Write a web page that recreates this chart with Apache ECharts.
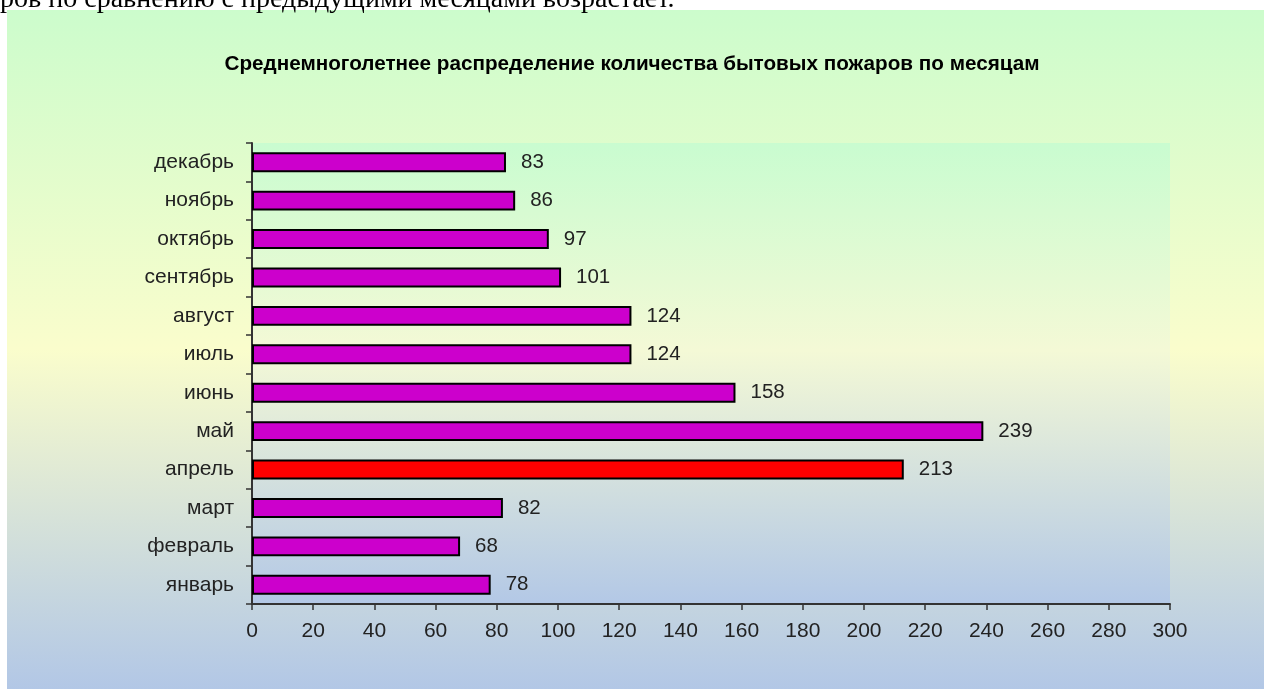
<!DOCTYPE html>
<html>
<head>
<meta charset="utf-8">
<style>
  html, body { margin: 0; padding: 0; background: #fff; }
  #chart { width: 1264px; height: 689px; }
</style>
<script src="https://cdn.jsdelivr.net/npm/echarts@6/dist/echarts.min.js"></script>
</head>
<body>
<div id="chart"></div>
<script>
// месяцы снизу вверх, как на оси
const months = ['январь', 'февраль', 'март', 'апрель', 'май', 'июнь', 'июль', 'август', 'сентябрь', 'октябрь', 'ноябрь', 'декабрь']
const fires = [78, 68, 82, 213, 239, 158, 124, 124, 101, 97, 86, 83]
const highlightMonth = 'апрель'
const xTicks = [0, 20, 40, 60, 80, 100, 120, 140, 160, 180, 200, 220, 240, 260, 280, 300]

const chart = echarts.init(document.getElementById('chart'))

const bgGradient = (stops) => new echarts.graphic.LinearGradient(0, 0, 0, 1, stops)

const option = {
  animation: false,
  textStyle: { fontFamily: 'Liberation Sans, Arial, sans-serif' },
  graphic: [
    {
      type: 'rect',
      z: -10,
      shape: { x: 7, y: 10, width: 1257, height: 679 },
      style: {
        fill: bgGradient([
          { offset: 0, color: '#ccfccc' },
          { offset: 0.5, color: '#fafdcc' },
          { offset: 1, color: '#b2c7e6' }
        ])
      }
    },
    {
      // обрезанная строка текста документа над диаграммой
      type: 'text',
      z: -5,
      left: 0,
      top: -14,
      style: {
        text: 'ров по сравнению с предыдущими месяцами возрастает.',
        font: '28px "Liberation Serif", serif',
        fill: '#000'
      }
    }
  ],
  title: {
    text: 'Среднемноголетнее распределение количества бытовых пожаров по месяцам',
    left: 'center',
    top: 49,
    textStyle: { fontSize: 20.7, fontWeight: 'bold', color: '#000' }
  },
  grid: {
    left: 252,
    right: 94,
    top: 143,
    bottom: 85,
    show: true,
    borderWidth: 0,
    backgroundColor: bgGradient([
      { offset: 0, color: '#c9fcd0' },
      { offset: 0.45, color: '#f4f9d6' },
      { offset: 1, color: '#b3c8e6' }
    ])
  },
  xAxis: {
    type: 'value',
    min: 0,
    max: 300,
    interval: 20,
    splitLine: { show: false },
    axisLine: { show: true, lineStyle: { color: '#333', width: 2 } },
    axisTick: { show: true, length: 6, lineStyle: { color: '#333', width: 1.5 } },
    axisLabel: {
      margin: 17,
      fontSize: 21,
      color: '#222',
      formatter: (v) => xTicks.includes(v) ? String(v) : ''
    }
  },
  yAxis: {
    type: 'category',
    data: months,
    axisLine: { show: true, lineStyle: { color: '#333', width: 2 } },
    axisTick: { show: true, length: 6, lineStyle: { color: '#333', width: 1.5 } },
    axisLabel: { margin: 18, fontSize: 21, color: '#222' }
  },
  series: [
    {
      type: 'bar',
      barWidth: '52%',
      data: fires.map((v, i) => ({
        value: v,
        itemStyle: { color: months[i] === highlightMonth ? '#ff0000' : '#cc00cc' }
      })),
      itemStyle: { borderColor: '#000', borderWidth: 2 },
      label: {
        show: true,
        position: 'right',
        distance: 15,
        fontSize: 20.5,
        color: '#222'
      }
    }
  ]
}

chart.setOption(option)
</script>
</body>
</html>
